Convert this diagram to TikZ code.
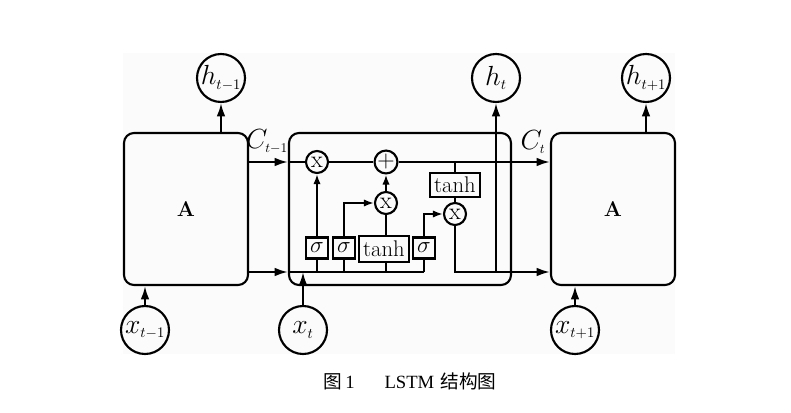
\documentclass[tikz,border=0pt]{standalone}
\usepackage{amsmath}
\usepackage{fontspec}
\newfontfamily\cjk{Noto Sans CJK SC}
\newfontfamily\capfont{Liberation Serif}
\usetikzlibrary{arrows.meta}

\begin{document}
\begin{tikzpicture}[%
    x=0.75pt, y=-0.75pt,
    line width=1.6pt,
    cellbox/.style={
      rectangle,
      draw,
      rounded corners=7.5pt,
      minimum width=93pt,
      minimum height=114pt,
      font=\fontsize{16}{18}\selectfont\bfseries
    },
    state/.style={
      circle,
      draw,
      inner sep=0pt,
      minimum size=36pt,
      font=\fontsize{21}{24}\selectfont
    },
    op/.style={
      circle,
      draw,
      inner sep=0pt,
      minimum size=16.5pt,
      font=\fontsize{18}{18}\selectfont
    },
    gate/.style={
      rectangle,
      draw,
      inner sep=0pt,
      minimum width=16.5pt,
      minimum height=15.75pt,
      font=\fontsize{19}{19}\selectfont
    },
    act/.style={
      rectangle,
      draw,
      inner sep=0pt,
      minimum width=38pt,
      minimum height=18pt,
      font=\fontsize{17}{17}\selectfont
    },
    lbl/.style={
      inner sep=0pt,
      font=\fontsize{20}{22}\selectfont
    },
    line/.style={
      draw,
      -{Latex[length=10pt,width=6.5pt]}
    },
    sline/.style={
      draw,
      -{Latex[length=7.5pt,width=5.5pt]}
    }
  ]
    \useasboundingbox (0,0) rectangle (791,413);
    \fill[black!1.5] (123,53) rectangle (675,354);

    % the three cells
    \node[cellbox] (A1) at (186,209) {A};
    \node[cellbox, minimum width=166.5pt] (cell) at (400,209) {};
    \node[cellbox] (A3) at (613,209) {A};

    % outputs and inputs
    \node[state] (h1) at (221,78) {$h_{\scriptscriptstyle t-1}$};
    \node[state] (h2) at (496,78) {$h_{\scriptscriptstyle t}$};
    \node[state] (h3) at (646,78) {$h_{\scriptscriptstyle t+1}$};
    \node[state] (x1) at (145,330) {$x_{\scriptscriptstyle t-1}$};
    \node[state] (x2) at (303,330) {$x_{\scriptscriptstyle t}$};
    \node[state] (x3) at (575,330) {$x_{\scriptscriptstyle t+1}$};

    % pointwise operations
    \node[op] (mf) at (317,162) {x};
    \node[op] (add) at (386,162) {+};
    \node[op] (mi) at (386,203) {x};
    \node[op] (mo) at (455,214) {x};

    % layers
    \node[gate] (sf) at (317,248) {$\sigma$};
    \node[gate] (si) at (344,248) {$\sigma$};
    \node[act, minimum width=37pt, minimum height=19.5pt] (tc) at (384,249) {tanh};
    \node[gate] (so) at (424,248) {$\sigma$};
    \node[act] (ta) at (455,185) {tanh};

    \node[lbl] (c1) at (267,142) {$C_{\scriptscriptstyle t-1}$};
    \node[lbl] (c2) at (533,142) {$C_{\scriptscriptstyle t}$};

    \coordinate (bus) at (0,272);

    % cell state
    \draw[line] (A1.east |- mf) -- (cell.west |- mf);
    \draw (cell.west |- mf) -- (mf);
    \draw (mf) -- (add);
    \draw[line] (add) -- (A3.west |- add);

    % hidden state
    \draw[line] (A1.east |- bus) -- (cell.west |- bus);
    \draw (cell.west |- bus) -- (so |- bus);
    \draw[line] (mo) -- (mo |- bus) -- (A3.west |- bus);
    \draw[line] (h2 |- bus) -- (h2);
    \draw[line] (x2) -- (x2 |- bus);

    \draw[line] (A1.north -| h1) -- (h1);
    \draw[line] (A3.north -| h3) -- (h3);
    \draw[line] (x1) -- (A1.south -| x1);
    \draw[line] (x3) -- (A3.south -| x3);

    % gates
    \draw (sf |- bus) -- (sf);
    \draw[sline] (sf) -- (mf);
    \draw (si |- bus) -- (si);
    \draw[sline] (si) |- (mi);
    \draw (mi |- bus) -- (tc.south -| mi);
    \draw (tc.north -| mi) -- (mi);
    \draw[sline] (mi) -- (add);
    \draw (so |- bus) -- (so);
    \draw[sline] (so) |- (mo);
    \draw (ta |- add) -- (ta);
    \draw (ta) -- (mo);

    \node[font=\fontsize{14}{16}\selectfont] (cap) at (410,381)
      {{\cjk 图}\,{\capfont 1}\hspace{1.6em}{\capfont LSTM} {\cjk 结构图}};
\end{tikzpicture}
\end{document}
